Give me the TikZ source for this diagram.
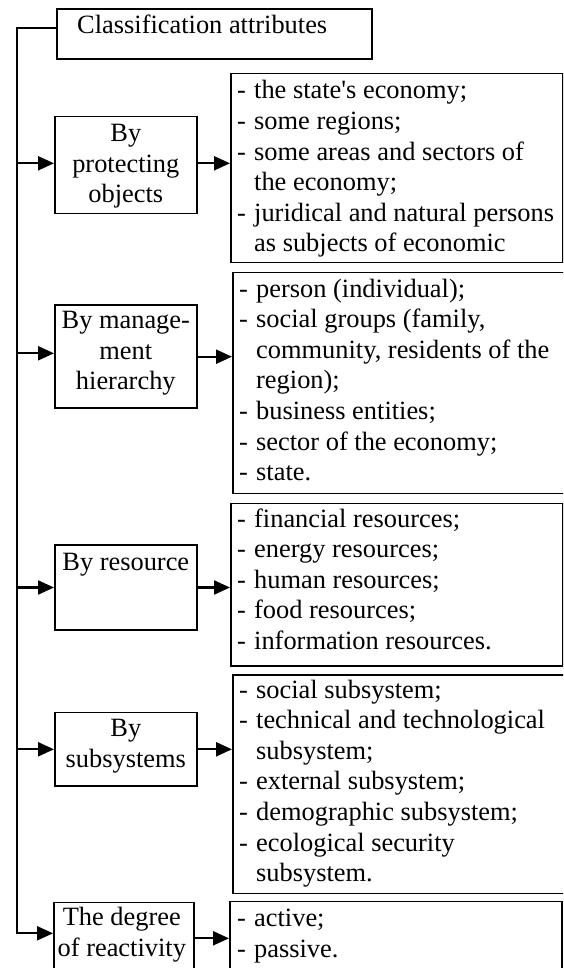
\documentclass[tikz,border=0pt]{standalone}
\usepackage{fontspec}
\setmainfont{Liberation Serif}
\usepackage{tikz}
\usetikzlibrary{arrows.meta, calc}

\tikzset{
  box/.style={draw, line width=1.6pt, inner sep=0pt, anchor=north west},
  conn/.style={line width=2.2pt},
  arr/.style={conn, -{Triangle[length=16pt, width=14pt]}},
  txt/.style={inner sep=0pt, font=\fontsize{26.4}{30.6}\selectfont},
}
\newcommand{\ctab}[1]{\begin{tabular}[t]{@{}c@{}}#1\end{tabular}}
\newcommand{\ltab}[1]{\begin{tabular}[t]{@{}p{17pt}@{}l@{}}#1\end{tabular}}

\begin{document}
\begin{tikzpicture}[x=1pt, y=-1pt]
  \useasboundingbox (0,0) rectangle (563,968);
  \clip (0,0) rectangle (563,968);
  % Head box
  \node[box, minimum width=315pt, minimum height=50pt] (head) at (56,8.3) {};
  \node[txt, anchor=base west] (headtxt) at ($(head.north west)+(21,25.7)$) {Classification attributes};
  % Attribute boxes, left column
  \node[box, minimum width=142pt, minimum height=97pt] (by1) at (54,115.7) {};
  \node[box, minimum width=142pt, minimum height=103pt] (by2) at (54,304.3) {};
  \node[box, minimum width=142pt, minimum height=84.7pt] (by3) at (54,544.3) {};
  \node[box, minimum width=142pt, minimum height=73.3pt] (by4) at (54,711.7) {};
  \node[box, minimum width=140pt, minimum height=100pt] (by5) at (53,901.7) {};
  \node[txt, anchor=base] (bytxt1) at ($(by1.north)+(0,25.8)$) {\ctab{By\\protecting\\objects}};
  \node[txt, anchor=base] (bytxt2) at ($(by2.north)+(0,24.2)$) {\ctab{By manage-\\ment\\hierarchy}};
  \node[txt, anchor=base] (bytxt3) at ($(by3.north)+(0,25.7)$) {\ctab{By resource}};
  \node[txt, anchor=base] (bytxt4) at ($(by4.north)+(0,24.8)$) {\ctab{By\\subsystems}};
  \node[txt, anchor=base] (bytxt5) at ($(by5.north)+(-2,23.8)$) {\ctab{The degree\\of reactivity}};
  % Item lists, right column
  \node[box, minimum width=332pt, minimum height=189pt] (it1) at (230,72.7) {};
  \node[box, minimum width=340pt, minimum height=221pt] (it2) at (232,271.7) {};
  \node[box, minimum width=332pt, minimum height=162.3pt] (it3) at (230,502.7) {};
  \node[box, minimum width=340pt, minimum height=218.4pt] (it4) at (232,674.3) {};
  \node[box, minimum width=332pt, minimum height=100pt] (it5) at (229,900.7) {};
  \node[txt, anchor=base west] (ittxt1) at ($(it1.north west)+(7,26.3)$) {\ltab{%
    - & the state\textquotesingle s economy;\\
    - & some regions;\\
    - & some areas and sectors of\\
      & the economy;\\
    - & juridical and natural persons\\
      & as subjects of economic}};
  \node[txt, anchor=base west] (ittxt2) at ($(it2.north west)+(7,25.3)$) {\ltab{%
    - & person (individual);\\
    - & social groups (family,\\
      & community, residents of the\\
      & region);\\
    - & business entities;\\
    - & sector of the economy;\\
    - & state.}};
  \node[txt, anchor=base west] (ittxt3) at ($(it3.north west)+(7,24.3)$) {\ltab{%
    - & financial resources;\\
    - & energy resources;\\
    - & human resources;\\
    - & food resources;\\
    - & information resources.}};
  \node[txt, anchor=base west] (ittxt4) at ($(it4.north west)+(7,23.7)$) {\ltab{%
    - & social subsystem;\\
    - & technical and technological\\
      & subsystem;\\
    - & external subsystem;\\
    - & demographic subsystem;\\
    - & ecological security\\
      & subsystem.}};
  \node[txt, anchor=base west] (ittxt5) at ($(it5.north west)+(8,25.8)$) {\ltab{%
    - & active;\\
    - & passive.}};
  % Spine and arrow rows
  \coordinate (s0) at (17,28.3);
  \coordinate (s1) at (17,163.3);
  \coordinate (s2) at (17,353.3);
  \coordinate (s3) at (17,587.5);
  \coordinate (s4) at (17,749.3);
  \coordinate (s5) at (17,933.3);
  \coordinate (r2) at (0,356.7);
  \coordinate (r5) at (0,938.3);
  \draw[arr] (s0 -| head.west) -- (s0) -- (s5) -- (s5 -| by5.west);
  \foreach \n in {1,...,4} {
    \draw[arr] (s\n) -- (s\n -| by\n.west);
  }
  % Attribute to item arrows
  \draw[arr] (by1.east |- s1) -- (s1 -| it1.west);
  \draw[arr] (by2.east |- r2) -- (r2 -| it2.west);
  \draw[arr] (by3.east |- s3) -- (s3 -| it3.west);
  \draw[arr] (by4.east |- s4) -- (s4 -| it4.west);
  \draw[arr] (by5.east |- r5) -- (r5 -| it5.west);
\end{tikzpicture}
\end{document}
